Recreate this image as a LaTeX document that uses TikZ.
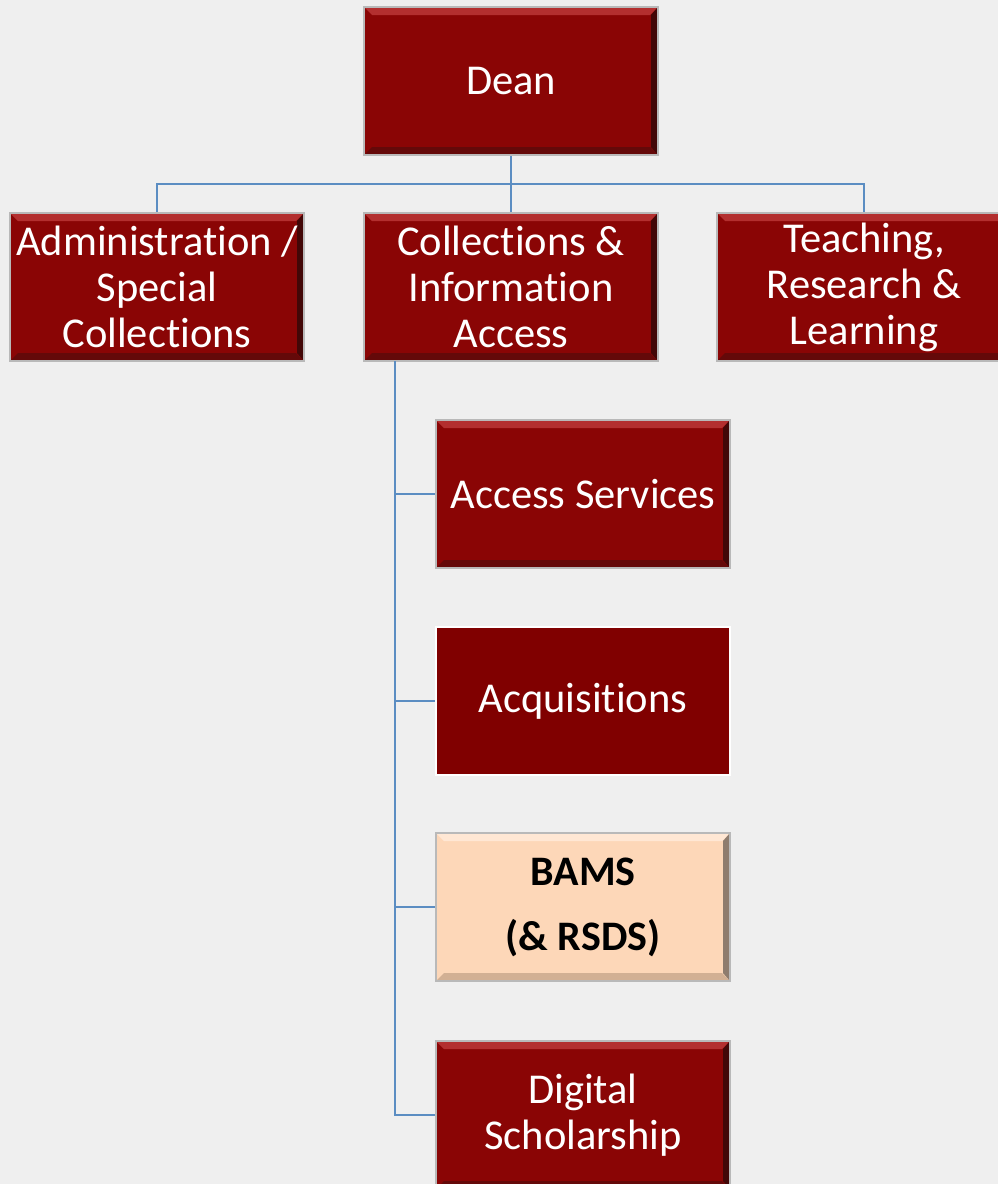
\documentclass[tikz,border=0pt]{standalone}
\usepackage{fontspec}
\setmainfont{Carlito}[RawFeature=-liga]
\usepackage{tikz}

\definecolor{pagebg}{HTML}{EFEFEF}
\definecolor{boxred}{HTML}{8A0505}
\definecolor{boxredtop}{HTML}{B32F2F}
\definecolor{boxredbot}{HTML}{640909}
\definecolor{boxredside}{HTML}{420707}
\definecolor{plainred}{HTML}{800000}
\definecolor{peach}{HTML}{FDD7B8}
\definecolor{peachtop}{HTML}{FFE7D4}
\definecolor{peachbot}{HTML}{D2B094}
\definecolor{peachside}{HTML}{8E7C6E}
\definecolor{linkblue}{HTML}{5B8DC2}

\tikzset{
  unitbox/.style={rectangle, minimum width=294pt, minimum height=148pt, inner sep=0pt,
    align=center, font=\fontsize{42.5}{46}\selectfont},
  bevelbox/.style 2 args={unitbox, fill=#1, draw=gray!55, line width=1.5pt, text=white,
    path picture={
      \fill[#2top] (path picture bounding box.north west) -- (path picture bounding box.north east)
        -- ([xshift=-8pt,yshift=-8pt]path picture bounding box.north east)
        -- ([xshift=8pt,yshift=-8pt]path picture bounding box.north west) -- cycle;
      \fill[#2bot] (path picture bounding box.south west) -- (path picture bounding box.south east)
        -- ([xshift=-8pt,yshift=8pt]path picture bounding box.south east)
        -- ([xshift=8pt,yshift=8pt]path picture bounding box.south west) -- cycle;
      \fill[#2side] (path picture bounding box.north east) -- (path picture bounding box.south east)
        -- ([xshift=-7pt,yshift=8pt]path picture bounding box.south east)
        -- ([xshift=-7pt,yshift=-8pt]path picture bounding box.north east) -- cycle;
    }},
  redbox/.style={bevelbox={boxred}{boxred}},
  peachbox/.style={bevelbox={peach}{peach}, text=black, font=\fontsize{42}{46}\selectfont\bfseries},
  flatbox/.style={unitbox, fill=plainred, draw=white, line width=2.5pt, text=white},
  orgline/.style={draw=linkblue, line width=2pt}
}

\begin{document}
\begin{tikzpicture}[x=1pt, y=-1pt]
  % page
  \fill[pagebg] (0,0) rectangle (998,1184);
  \useasboundingbox (0,0) rectangle (998,1184);
  \clip (0,0) rectangle (998,1184);

  % top level
  \node[redbox] (dean) at (511, 81) {Dean};
  \node[redbox] (admin) at (157, 287) {Administration /\\Special\\Collections};
  \node[redbox] (collect) at (511, 287) {Collections \&\\Information\\Access};
  \node[redbox] (teach) at (864, 287) {Teaching,\\Research \&\\Learning};

  % units under collections
  \node[redbox] (access) at (583, 494) {Access Services};
  \node[flatbox] (acq) at (583, 701) {Acquisitions};
  \node[peachbox] (bams) at (583, 907) {BAMS\\[19pt](\& RSDS)};
  \node[redbox] (digital) at (583, 1115) {Digital\\Scholarship};

  % connectors
  \coordinate (bus) at (511, 184);
  \coordinate (spine) at (395, 361);
  \draw[orgline] (dean.south) -- (bus);
  \draw[orgline] (bus) -| (admin.north);
  \draw[orgline] (bus) -| (teach.north);
  \draw[orgline] (bus) -- (collect.north);
  \draw[orgline] (spine) |- (access.west);
  \draw[orgline] (spine) |- (acq.west);
  \draw[orgline] (spine) |- (bams.west);
  \draw[orgline] (spine) |- (digital.west);
\end{tikzpicture}
\end{document}
